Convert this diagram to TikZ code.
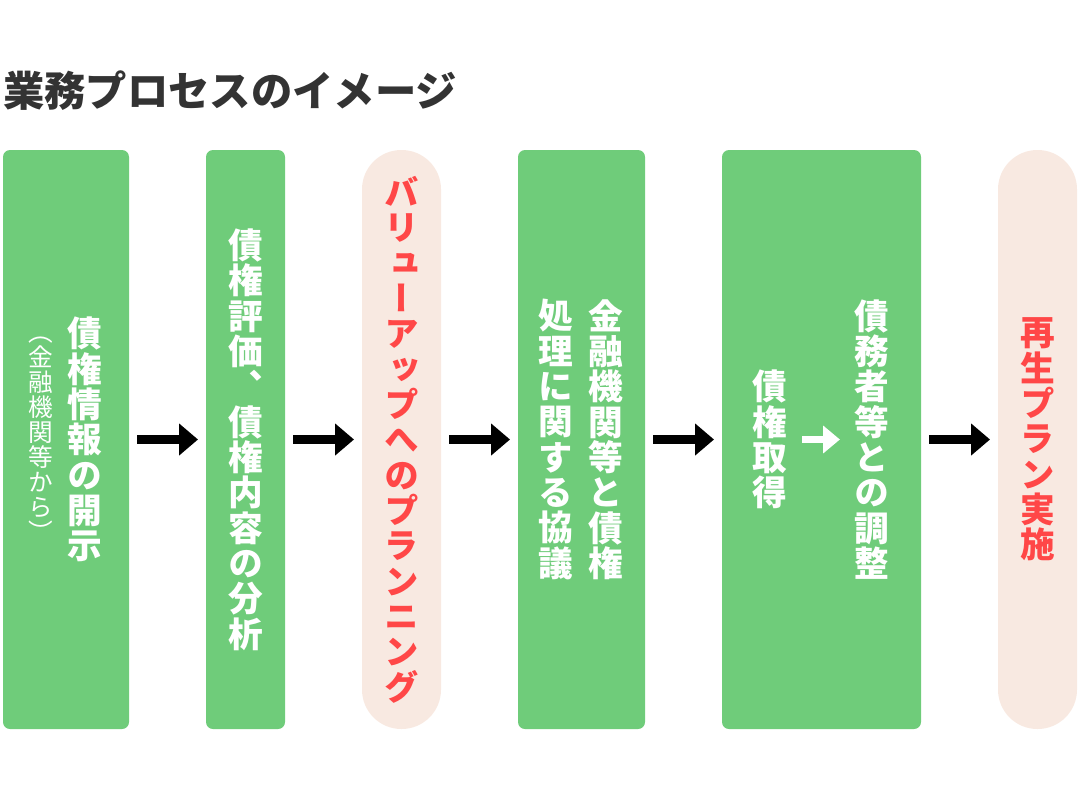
\documentclass[tikz,border=0pt]{standalone}
\usepackage{fontspec}
\setmainfont{Noto Sans CJK JP}
\newfontfamily\tatefont[RawFeature=+vert]{Noto Sans CJK JP}
\usetikzlibrary{arrows.meta,positioning}
\definecolor{stepgreen}{HTML}{6FCC7A}
\definecolor{planpink}{HTML}{F8E9E1}
\definecolor{planred}{HTML}{FF4747}
\definecolor{titlegray}{HTML}{333333}
\tikzset{
  stepbox/.style={draw=none, fill=stepgreen, rounded corners=5.25pt, inner sep=0pt, outer sep=0pt, minimum height=434.25pt},
  planbox/.style={draw=none, fill=planpink, rounded corners=29.5pt, inner sep=0pt, outer sep=0pt, minimum width=59.25pt, minimum height=434.25pt},
  tate/.style={inner sep=0pt, align=center, font=\tatefont\bfseries\fontsize{26pt}{26.5pt}\selectfont},
  tatesmall/.style={inner sep=0pt, align=center, font=\tatefont\fontsize{18.5pt}{18.75pt}\selectfont},
  flow/.style={-{Triangle[length=14.25pt,width=23.25pt]}, line width=6.75pt, black},
  subflow/.style={-{Triangle[length=12.5pt,width=20pt]}, line width=5.5pt, white},
}

\begin{document}
\begin{tikzpicture}
\useasboundingbox (0,0) rectangle (810pt,-600pt);

% --- title ---
\node[anchor=west, inner sep=0pt, text=titlegray, font=\bfseries\fontsize{31pt}{31pt}\selectfont] (title)
  at (2.25pt,-68.25pt) {業務プロセスのイメージ};

% --- steps ---
\node[stepbox, minimum width=94.5pt] (disclose) at (49.5pt,-329.625pt) {};
\node[stepbox, minimum width=59.25pt, right=57.75pt of disclose] (assess) {};
\node[planbox, right=57.75pt of assess] (valueup) {};
\node[stepbox, minimum width=95.25pt, right=57.75pt of valueup] (negotiate) {};
\node[stepbox, minimum width=149.25pt, right=57.75pt of negotiate] (acquire) {};
\node[planbox, right=57.75pt of acquire] (rebuild) {};

% vertical labels, one glyph per line
\node[tate, text=white, xshift=14.25pt] (disclosetxt) at (disclose.center)
  {債\\権\\情\\報\\の\\開\\示};
\node[tatesmall, text=white, xshift=-18.75pt] (disclosesub) at (disclose.center)
  {（\\金\\融\\機\\関\\等\\か\\ら\\）};
\node[tate, text=white] (assesstxt) at (assess.center)
  {債\\権\\評\\価\\、\\債\\権\\内\\容\\の\\分\\析};
\node[tate, text=planred] (valueuptxt) at (valueup.center)
  {バ\\リ\\ュ\\ー\\ア\\ッ\\プ\\へ\\の\\プ\\ラ\\ン\\ニ\\ン\\グ};
\node[tate, text=white, xshift=18.5pt] (negotiatetxt) at (negotiate.center)
  {金\\融\\機\\関\\等\\と\\債\\権};
\node[tate, text=white, xshift=-19.5pt] (negotiatesub) at (negotiate.center)
  {処\\理\\に\\関\\す\\る\\協\\議};
\node[tate, text=white, xshift=-38.5pt] (acquiretxt) at (acquire.center)
  {債\\権\\取\\得};
\node[tate, text=white, xshift=38pt] (adjusttxt) at (acquire.center)
  {債\\務\\者\\等\\と\\の\\調\\整};
\node[tate, text=planred] (rebuildtxt) at (rebuild.center)
  {再\\生\\プ\\ラ\\ン\\実\\施};

% --- arrows ---
\draw[flow] ([xshift=6pt]disclose.east) -- ([xshift=-6pt]assess.west);
\draw[flow] ([xshift=6pt]assess.east) -- ([xshift=-6pt]valueup.west);
\draw[flow] ([xshift=6pt]valueup.east) -- ([xshift=-6pt]negotiate.west);
\draw[flow] ([xshift=6pt]negotiate.east) -- ([xshift=-6pt]acquire.west);
\draw[flow] ([xshift=6pt]acquire.east) -- ([xshift=-6pt]rebuild.west);
\draw[subflow] ([xshift=11pt]acquiretxt.east) -- ([xshift=-11pt]adjusttxt.west);

\end{tikzpicture}
\end{document}
